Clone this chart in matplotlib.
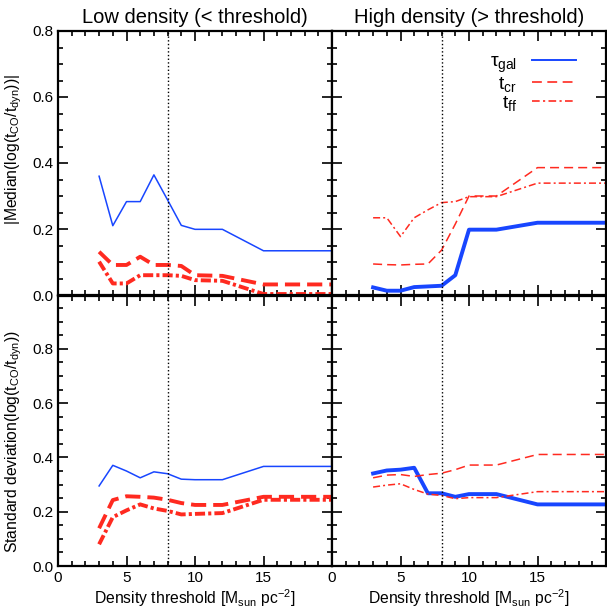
import matplotlib
matplotlib.use("Agg")
import matplotlib.pyplot as plt
from matplotlib.lines import Line2D
from matplotlib.ticker import MultipleLocator

plt.rcParams['font.family'] = ['Liberation Sans', 'DejaVu Sans']
plt.rcParams['mathtext.fontset'] = 'custom'
plt.rcParams['mathtext.rm'] = 'Liberation Sans'
plt.rcParams['mathtext.it'] = 'Liberation Sans'
plt.rcParams['mathtext.bf'] = 'Liberation Sans:bold'

# density thresholds
thresh = [3, 4, 5, 6, 7, 8, 9, 10, 12, 15, 20]

# |median| , low density
med_lo_gal = [0.36, 0.21, 0.283, 0.283, 0.364, 0.288, 0.211, 0.199, 0.199, 0.134, 0.134]
med_lo_cr = [0.131, 0.091, 0.091, 0.116, 0.091, 0.091, 0.088, 0.06, 0.058, 0.032, 0.032]
med_lo_ff = [0.101, 0.035, 0.035, 0.06, 0.06, 0.06, 0.058, 0.045, 0.043, 0.003, 0.003]
# |median| , high density
med_hi_gal = [0.023, 0.013, 0.013, 0.024, 0.026, 0.028, 0.06, 0.198, 0.198, 0.219, 0.219]
med_hi_cr = [0.094, 0.092, 0.091, 0.093, 0.094, 0.136, 0.215, 0.3, 0.3, 0.386, 0.386]
med_hi_ff = [0.234, 0.234, 0.177, 0.234, 0.258, 0.28, 0.283, 0.298, 0.298, 0.339, 0.339]
# std dev , low density
std_lo_gal = [0.295, 0.371, 0.35, 0.325, 0.347, 0.34, 0.32, 0.318, 0.318, 0.367, 0.367]
std_lo_cr = [0.139, 0.243, 0.257, 0.255, 0.252, 0.244, 0.232, 0.225, 0.225, 0.255, 0.255]
std_lo_ff = [0.08, 0.18, 0.205, 0.227, 0.212, 0.203, 0.19, 0.192, 0.195, 0.244, 0.244]
# std dev , high density
std_hi_gal = [0.341, 0.352, 0.355, 0.362, 0.268, 0.268, 0.255, 0.265, 0.265, 0.227, 0.227]
std_hi_cr = [0.325, 0.335, 0.337, 0.33, 0.337, 0.342, 0.355, 0.372, 0.372, 0.411, 0.411]
std_hi_ff = [0.291, 0.298, 0.303, 0.282, 0.265, 0.26, 0.248, 0.252, 0.252, 0.274, 0.274]

blue = '#1846ff'
red = '#ff2a20'

fig = plt.figure(figsize=(6.07, 6.12), dpi=100)
W, H = 607.0, 612.0
axL1 = fig.add_axes([58 / W, 1 - 295 / H, 274 / W, 264 / H])
axR1 = fig.add_axes([332 / W, 1 - 295 / H, 274 / W, 264 / H])
axL2 = fig.add_axes([58 / W, 1 - 566 / H, 274 / W, 270 / H])
axR2 = fig.add_axes([332 / W, 1 - 566 / H, 274 / W, 270 / H])

lw_thin, lw_thick = 1.1, 2.8
dash_thin = (0, (5.9, 3.3))
dash_thick = (0, (3.9, 1.8))
dd_thin = (0, (4.6, 2.0, 1.3, 2.0))
dd_thick = (0, (2.6, 0.8, 0.8, 0.8))

def panel(ax, gal, cr, ff, thick_gal, ymax):
    if thick_gal:
        ax.plot(thresh, gal, color=blue, lw=lw_thick)
        ax.plot(thresh, cr, color=red, lw=lw_thin, ls=dash_thin)
        ax.plot(thresh, ff, color=red, lw=lw_thin, ls=dd_thin)
    else:
        ax.plot(thresh, gal, color=blue, lw=lw_thin)
        ax.plot(thresh, cr, color=red, lw=lw_thick, ls=dash_thick)
        ax.plot(thresh, ff, color=red, lw=lw_thick, ls=dd_thick)
    ax.axvline(8, color='black', ls=':', lw=1.0)
    ax.set_xlim(0, 20)
    ax.set_ylim(0, ymax)
    ax.xaxis.set_major_locator(MultipleLocator(5))
    ax.xaxis.set_minor_locator(MultipleLocator(1))
    ax.yaxis.set_major_locator(MultipleLocator(0.2))
    ax.yaxis.set_minor_locator(MultipleLocator(0.05))
    ax.tick_params(which='both', direction='in', top=True, right=True, labelsize=11, width=1.2)
    ax.tick_params(which='major', length=7)
    ax.tick_params(which='minor', length=3.5)
    for s in ax.spines.values():
        s.set_linewidth(1.6)

panel(axL1, med_lo_gal, med_lo_cr, med_lo_ff, False, 0.8)
panel(axR1, med_hi_gal, med_hi_cr, med_hi_ff, True, 0.8)
panel(axL2, std_lo_gal, std_lo_cr, std_lo_ff, False, 0.995)
panel(axR2, std_hi_gal, std_hi_cr, std_hi_ff, True, 0.995)

for ax in (axL1, axR1):
    ax.set_xticklabels([])
for ax in (axR1, axR2):
    ax.set_yticklabels([])
for ax in (axL1, axL2):
    ax.set_yticks([0, 0.2, 0.4, 0.6, 0.8])
    ax.set_yticklabels(['0.0', '0.2', '0.4', '0.6', '0.8'])
for ax in (axL2, axR2):
    ax.set_xticks([0, 5, 10, 15, 20])
    ax.set_xticklabels(['0', '5', '10', '15', ''])
    ax.set_xlabel(r'Density threshold [M$_{\rm sun}$ pc$^{-2}$]', fontsize=11.3, labelpad=2)

axL1.set_title('Low density (< threshold)', fontsize=14.5, pad=6)
axR1.set_title('High density (> threshold)', fontsize=14.5, pad=6)
axL1.set_ylabel(r'|Median(log(t$_{\rm CO}$/t$_{\rm dyn}$))|', fontsize=11.3)
axL2.set_ylabel(r'Standard deviation(log(t$_{\rm CO}$/t$_{\rm dyn}$))', fontsize=11.3)
axL1.yaxis.set_label_coords(-0.125, 0.55)
axL2.yaxis.set_label_coords(-0.125, 0.46)

handles = [Line2D([], [], color=blue, lw=1.4),
           Line2D([], [], color=red, lw=1.2, ls=dash_thin),
           Line2D([], [], color=red, lw=1.2, ls=dd_thin)]
labels = [r'$\tau_{\rm gal}$', r'$t_{\rm cr}$', r'$t_{\rm ff}$']
axR1.legend(handles, labels, loc='upper right', bbox_to_anchor=(0.92, 0.945), markerfirst=False,
            frameon=False, fontsize=14, handlelength=2.3, handletextpad=0.75,
            labelspacing=0.0, borderaxespad=0)

fig.savefig('out.png', dpi=100)
